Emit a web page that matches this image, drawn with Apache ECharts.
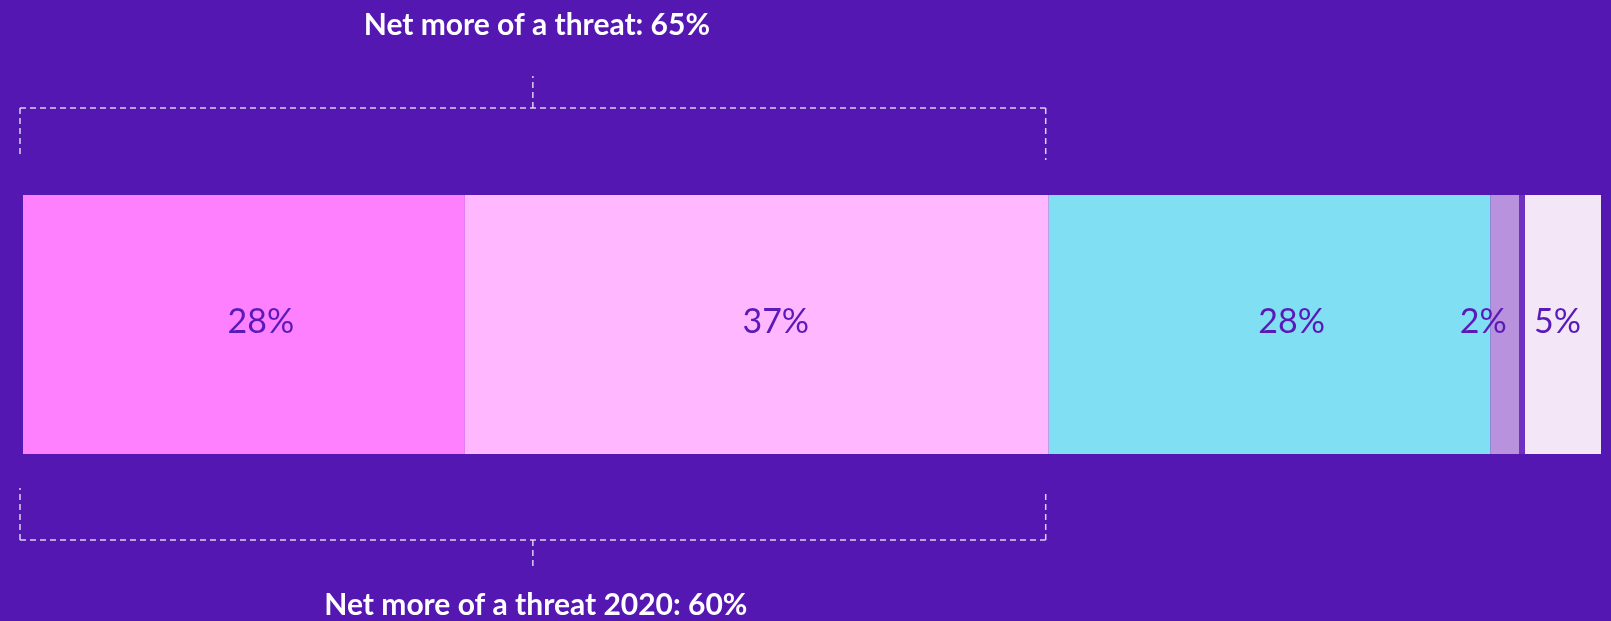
<!DOCTYPE html>
<html>
<head>
<meta charset="utf-8">
<title>Net more of a threat</title>
<script src="https://cdn.jsdelivr.net/npm/echarts@6/dist/echarts.min.js"></script>
<style>
  html, body { margin: 0; padding: 0; background: #5417b1; }
  #chart { width: 1611px; height: 621px; }
</style>
</head>
<body>
<div id="chart"></div>
<script>
// Share of responses, left to right
const segmentNames = ['Much more of a threat', 'Somewhat more of a threat', 'About the same', 'Less of a threat', "Don't know"];
const segmentValues = [28, 37, 28, 2, 5];
const rowLabel = ['2024'];
const netLabelTop = 'Net more of a threat: 65%';
const netLabelBottom = 'Net more of a threat 2020: 60%';
const netSegmentsCount = 2; // the "net more" bracket covers the first two segments

const segmentColors = ['#ff80ff', '#ffb8ff', '#80dff2', '#b992de', '#f3e6f6'];
const labelShift = [17, 19, 22, -23, -4];
const BG = '#5417b1';
const INK = '#5a1ab8';
const FONT = 'Lato, "Open Sans", sans-serif';

const GRID = { left: 23, right: 10, top: 195, height: 259 };

const chart = echarts.init(document.getElementById('chart'), null, { renderer: 'canvas' });

const series = segmentValues.map((v, i) => ({
  name: segmentNames[i],
  type: 'bar',
  stack: 'total',
  barCategoryGap: '0%',
  data: [v],
  itemStyle: { color: segmentColors[i] },
  label: {
    show: true,
    position: 'inside',
    offset: [labelShift[i], -2],
    formatter: p => p.value + '%',
    color: INK,
    fontFamily: FONT,
    fontSize: 34,
    fontWeight: 'normal'
  },
  emphasis: { disabled: true },
  silent: true,
  animation: false
}));

// thin separator ahead of the last segment
const beforeLast = segmentValues.slice(0, segmentValues.length - 1).reduce((a, b) => a + b, 0);
series[segmentValues.length - 2].markLine = {
  silent: true,
  symbol: 'none',
  label: { show: false },
  lineStyle: { color: '#7030c0', width: 6, type: 'solid' },
  data: [{ xAxis: beforeLast }],
  animation: false
};

chart.setOption({
  backgroundColor: BG,
  animation: false,
  grid: GRID,
  xAxis: { type: 'value', min: 0, max: 100, show: false },
  yAxis: { type: 'category', data: rowLabel, show: false },
  series: series
});

// Brackets for the net share, spanning the first segments
const netTotal = segmentValues.slice(0, netSegmentsCount).reduce((a, b) => a + b, 0);
const xStart = chart.convertToPixel({ xAxisIndex: 0 }, 0) - 3;
const xEnd = chart.convertToPixel({ xAxisIndex: 0 }, netTotal) - 3;
const xMid = (xStart + xEnd) / 2;
const barTop = GRID.top;
const barBottom = GRID.top + GRID.height;

const dash = { stroke: 'rgba(235,228,250,0.9)', lineWidth: 1.5, lineDash: [6, 4] };
const seg = (x1, y1, x2, y2) => ({
  type: 'line', silent: true,
  shape: { x1, y1, x2, y2 },
  style: Object.assign({}, dash)
});

const topY = barTop - 87;
const botY = barBottom + 86;

chart.setOption({
  graphic: [
    // upper bracket
    seg(xStart, topY, xEnd, topY),
    seg(xStart, topY, xStart, barTop - 38),
    seg(xEnd, topY, xEnd, barTop - 35),
    seg(xMid, topY, xMid, topY - 32),
    // lower bracket
    seg(xStart, botY, xEnd, botY),
    seg(xStart, botY, xStart, barBottom + 34),
    seg(xEnd, botY, xEnd, barBottom + 38),
    seg(xMid, botY, xMid, botY + 28),
    {
      type: 'text', silent: true,
      x: xMid + 4, y: 25,
      style: {
        text: netLabelTop, fill: '#ffffff',
        font: 'bold 30px ' + FONT,
        align: 'center', verticalAlign: 'middle'
      }
    },
    {
      type: 'text', silent: true,
      x: xMid + 3, y: 605,
      style: {
        text: netLabelBottom, fill: '#ffffff',
        font: 'bold 30px ' + FONT,
        align: 'center', verticalAlign: 'middle'
      }
    }
  ]
});
</script>
</body>
</html>
